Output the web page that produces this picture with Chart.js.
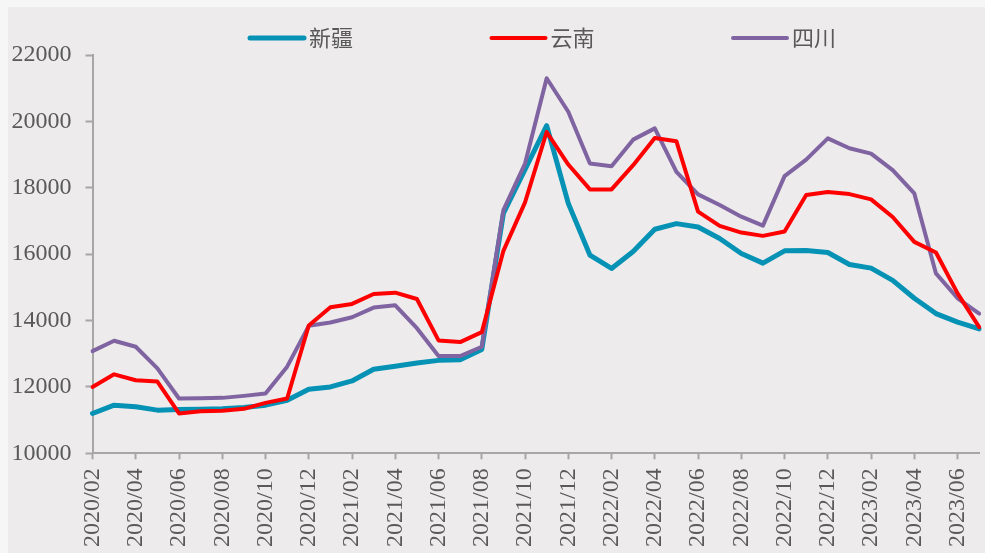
<!DOCTYPE html>
<html>
<head>
<meta charset="utf-8">
<script src="https://cdn.jsdelivr.net/npm/chart.js@4.4.0/dist/chart.umd.min.js"></script>
<style>
    body { margin: 0; background: #f6f6f6; overflow: hidden; width: 985px; height: 553px; }
    #box { position: absolute; left: 8px; top: 7px; width: 1009px; height: 580px; background: #edebec; }
</style>
</head>
<body>
<div id="box"><canvas id="line-chart-regions"></canvas></div>
<script>
const months = [
    "2020/02", "2020/03", "2020/04", "2020/05", "2020/06", "2020/07", "2020/08", "2020/09", "2020/10", "2020/11", "2020/12",
    "2021/01", "2021/02", "2021/03", "2021/04", "2021/05", "2021/06", "2021/07", "2021/08", "2021/09", "2021/10", "2021/11", "2021/12",
    "2022/01", "2022/02", "2022/03", "2022/04", "2022/05", "2022/06", "2022/07", "2022/08", "2022/09", "2022/10", "2022/11", "2022/12",
    "2023/01", "2023/02", "2023/03", "2023/04", "2023/05", "2023/06", "2023/07"
];

const seriesNames = ["新疆", "云南", "四川"];

const xinjiang = [11200, 11450, 11400, 11300, 11320, 11330, 11340, 11380, 11450, 11600, 11930, 12000, 12180, 12530, 12620, 12720, 12800, 12820, 13130,
    17230, 18550, 19870, 17530, 15970, 15570, 16080, 16750, 16920, 16820,
    16470, 16020, 15730, 16100, 16110, 16050, 15690, 15580, 15210, 14670, 14210, 13950, 13750];

const yunnan = [12000, 12380, 12200, 12160, 11200, 11270, 11280, 11340, 11520, 11650, 13850, 14400, 14500, 14800, 14840, 14650, 13400, 13350, 13650,
    16100, 17560, 19680, 18700, 17950, 17950, 18680, 19500, 19400, 17280,
    16850, 16650, 16550, 16680, 17780, 17870, 17810, 17650, 17120, 16370, 16050, 14820, 13800];

const sichuan = [13080, 13390, 13210, 12560, 11650, 11660, 11670, 11730, 11800, 12610, 13840, 13940, 14100, 14390, 14460, 13770, 12930, 12930, 13210,
    17330, 18730, 21300, 20290, 18730, 18650, 19450, 19790, 18480, 17800,
    17480, 17130, 16860, 18350, 18850, 19490, 19190, 19030, 18530, 17830, 15420, 14670, 14210];

const yTicks = [10000, 12000, 14000, 16000, 18000, 20000, 22000];

const axisGray = "#a6a6a6";
const textGray = "#595959";

// legend drawn by hand so items can sit far apart like the original
const topLegend = {
    id: "topLegend",
    afterDraw(chart) {
        const ctx = chart.ctx;
        ctx.save();
        ctx.font = "22px 'Noto Sans CJK SC'";
        ctx.textBaseline = "middle";
        chart.data.datasets.forEach((ds, i) => {
            const x = 242 + i * 241.5;
            const y = 31;
            ctx.strokeStyle = ds.borderColor;
            ctx.lineWidth = ds.borderWidth;
            ctx.lineCap = "round";
            ctx.beginPath();
            ctx.moveTo(x, y);
            ctx.lineTo(x + 54, y);
            ctx.stroke();
            ctx.fillStyle = textGray;
            ctx.fillText(ds.label, x + 59, y);
        });
        ctx.restore();
    }
};

new Chart(document.getElementById("line-chart-regions"), {
    type: "line",
    data: {
        labels: months,
        datasets: [
            {
                label: seriesNames[0],
                data: xinjiang,
                borderColor: "#0592b4",
                borderWidth: 5,
                order: 3,
            },
            {
                label: seriesNames[1],
                data: yunnan,
                borderColor: "#ff0000",
                borderWidth: 4,
                order: 1,
            },
            {
                label: seriesNames[2],
                data: sichuan,
                borderColor: "#8064a2",
                borderWidth: 4,
                order: 2,
            }
        ]
    },
    options: {
        responsive: true,
        maintainAspectRatio: false,
        animation: false,
        elements: {
            point: { radius: 0 },
            line: { tension: 0, borderJoinStyle: "round", borderCapStyle: "round" }
        },
        layout: {
            padding: { top: 48, left: 0, right: 29.7, bottom: 0 }
        },
        plugins: {
            legend: { display: false },
            tooltip: { enabled: false },
        },
        scales: {
            x: {
                afterFit: (scale) => { scale.height = 133.7; },
                grid: {
                    drawOnChartArea: false,
                    drawTicks: true,
                    tickLength: 6,
                    tickWidth: 2,
                    tickColor: (c) => c.index % 2 === 0 ? axisGray : "rgba(0,0,0,0)",
                },
                border: { color: axisGray, width: 2 },
                ticks: {
                    autoSkip: false,
                    minRotation: 90,
                    maxRotation: 90,
                    padding: 9,
                    color: textGray,
                    font: { family: "'Liberation Serif'", size: 24 },
                    callback: (v, i) => i % 2 === 0 ? months[i] : "",
                }
            },
            y: {
                min: yTicks[0],
                max: yTicks[yTicks.length - 1],
                afterFit: (scale) => { scale.width = 84.5; },
                afterBuildTicks: (scale) => { scale.ticks = yTicks.map((v) => ({ value: v })); },
                grid: {
                    drawOnChartArea: false,
                    tickLength: 7,
                    tickWidth: 2,
                    tickColor: axisGray,
                },
                border: { color: axisGray, width: 2 },
                ticks: {
                    padding: 14,
                    color: textGray,
                    font: { family: "'Liberation Serif'", size: 24 },
                    callback: (v) => String(v),
                }
            }
        }
    },
    plugins: [topLegend]
});
</script>
</body>
</html>
